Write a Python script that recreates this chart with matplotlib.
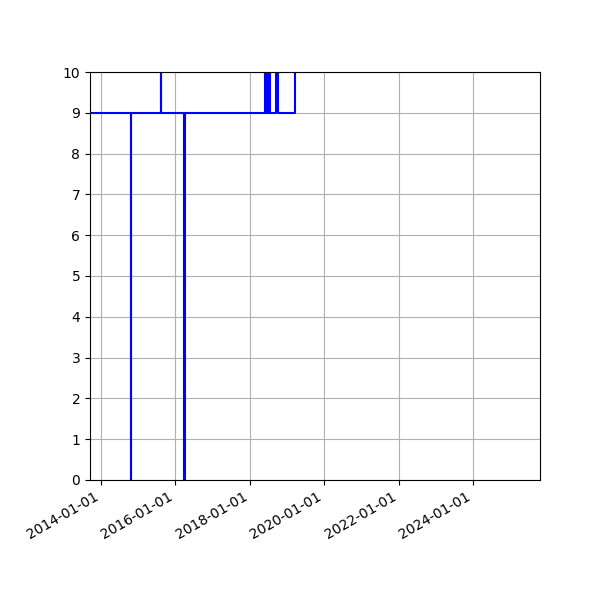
import datetime as dt
import matplotlib
matplotlib.use('Agg')
import matplotlib.pyplot as plt
import matplotlib.dates as mdates

# change points of the series (value holds until the next date)
change_dates = [
    '2013-09-15', '2014-10-24', '2014-10-27', '2015-08-14', '2015-08-16',
    '2016-03-27', '2016-04-06', '2018-05-28', '2018-06-07', '2018-06-16',
    '2018-06-26', '2018-07-05', '2018-07-22', '2018-09-20', '2018-10-04',
    '2019-03-20', '2025-10-20',
]
change_values = [
    9, 0, 9, 12, 9,
    0, 9, 12, 9, 12,
    9, 12, 9, 12, 9,
    12, 12,
]

dates = [dt.datetime.strptime(d, '%Y-%m-%d') for d in change_dates]

fig, ax = plt.subplots(figsize=(6, 6), dpi=100)
fig.subplots_adjust(left=0.15, right=0.9, top=0.88, bottom=0.2)

ax.plot(dates, change_values, color='blue', drawstyle='steps-post')

ax.set_xlim(dates[0], dates[-1])
ax.set_ylim(0, 10)
ax.set_yticks(range(0, 11))
ax.xaxis.set_major_locator(mdates.YearLocator(2))
ax.xaxis.set_major_formatter(mdates.DateFormatter('%Y-%m-%d'))
ax.grid(True)
fig.autofmt_xdate()

fig.savefig('out.png')
